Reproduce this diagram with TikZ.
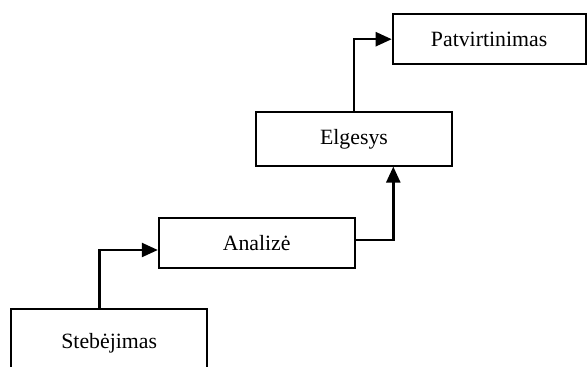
\documentclass[tikz,border=0pt]{standalone}
\usepackage{fontspec}
\setmainfont{Liberation Serif}
\usetikzlibrary{arrows.meta}

\begin{document}
\begin{tikzpicture}[x=1pt,y=1pt,
  stage/.style={draw,rectangle,minimum width=196pt,minimum height=50pt,inner sep=0pt,line width=1.8pt,font=\fontsize{21.8}{26}\selectfont},
  flow/.style={line width=2.4pt,-{Triangle[length=16pt,width=14pt]}}]
          \useasboundingbox (0,0) rectangle (587,367);
          \clip (0,0) rectangle (587,367);
          \node[stage,minimum height=67.4pt] (steb) at (109.2,24) {Stebėjimas};
          \node[stage] (anal) at (256.7,123.7) {Analizė};
          \node[stage,minimum height=53.4pt] (elg) at (354,228) {Elgesys};
          \node[stage,minimum width=193pt] (patv) at (489.1,327.8) {Patvirtinimas};
          \draw[flow] ([xshift=-9.9pt]steb.north) |- ([yshift=-6.7pt]anal.west);
          \draw[flow] ([yshift=3.3pt]anal.east) -| ([xshift=39.3pt]elg.south);
          \draw[flow] (elg.north) |- (patv.west);
        \end{tikzpicture}
\end{document}
